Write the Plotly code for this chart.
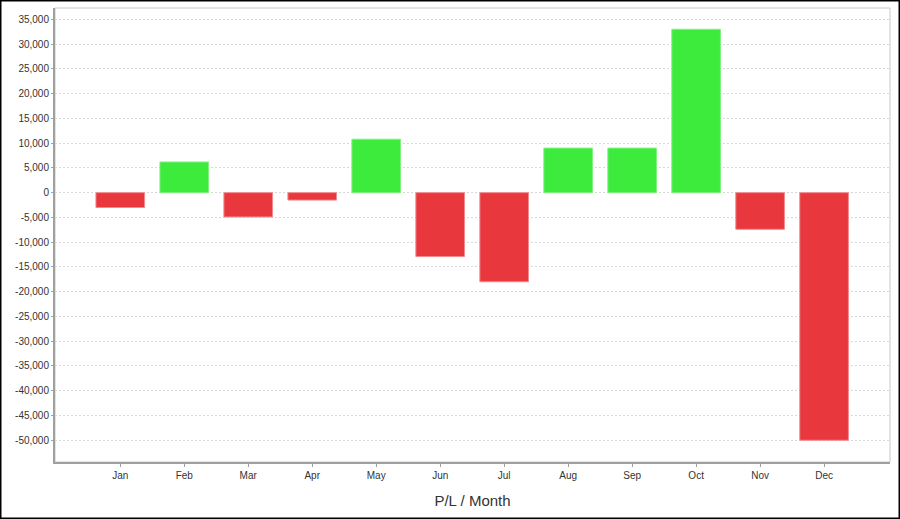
import plotly.graph_objects as go

months = ["Jan", "Feb", "Mar", "Apr", "May", "Jun", "Jul", "Aug", "Sep", "Oct", "Nov", "Dec"]
pnl = [-3000, 6200, -4900, -1500, 10800, -12900, -18000, 9000, 9000, 33000, -7400, -50000]
ytick_vals = list(range(-50000, 35001, 5000))
ytick_text = [f"{v:,}" for v in ytick_vals]

RED = "#E8383D"
GREEN = "#3DEB3D"
colors = [GREEN if v >= 0 else RED for v in pnl]
line_colors = ["#7FF27F" if v >= 0 else "#F08A8D" for v in pnl]

W, H = 900, 519
ML, MR, MT, MB = 55, 10, 8, 57
PW, PH = W - ML - MR, H - MT - MB

fig = go.Figure(go.Bar(
    x=months, y=pnl,
    marker=dict(color=colors, line=dict(color=line_colors, width=1)),
    width=0.76,
    hoverinfo="x+y",
))

def px_to_paper_x(px):
    return (px - ML) / PW

def px_to_paper_y(py):
    return 1 - (py - MT) / PH

fig.update_layout(
    width=W, height=H,
    margin=dict(l=ML, r=MR, t=MT, b=MB, autoexpand=False),
    paper_bgcolor="white",
    plot_bgcolor="white",
    showlegend=False,
    font=dict(family="Liberation Sans, Arial, sans-serif", color="#333333", size=10),
    xaxis=dict(
        type="category",
        range=[-1.02, 12.03],
        automargin=False,
        showgrid=False,
        showline=True, linecolor="#A0A0A0", linewidth=2,
        ticks="outside", ticklen=3, tickcolor="#A0A0A0",
        tickfont=dict(size=10, color="#333333"),
        title=dict(text="P/L / Month", font=dict(size=15, color="#333333"), standoff=15),
        zeroline=False,
    ),
    yaxis=dict(
        range=[-54400, 37300],
        automargin=False,
        tickvals=ytick_vals, ticktext=ytick_text,
        showgrid=True, gridcolor="#D8D8D8", gridwidth=1, griddash="2px,2px",
        showline=True, linecolor="#A0A0A0", linewidth=2,
        ticks="outside", ticklen=2, tickcolor="#A0A0A0",
        tickfont=dict(size=10, color="#333333"),
        zeroline=False,
    ),
    shapes=[
        dict(type="rect", xref="paper", yref="paper", x0=0, x1=1, y0=0, y1=1,
             line=dict(color="#C8C8C8", width=1), layer="below"),
        dict(type="rect", xref="paper", yref="paper",
             x0=px_to_paper_x(0.75), x1=px_to_paper_x(W - 0.75),
             y0=px_to_paper_y(H - 0.75), y1=px_to_paper_y(0.75),
             line=dict(color="black", width=1.5)),
    ],
)

fig.write_html("out.html", config={"displayModeBar": False},
               post_script="document.body.style.margin='0';document.body.style.overflow='hidden';")
